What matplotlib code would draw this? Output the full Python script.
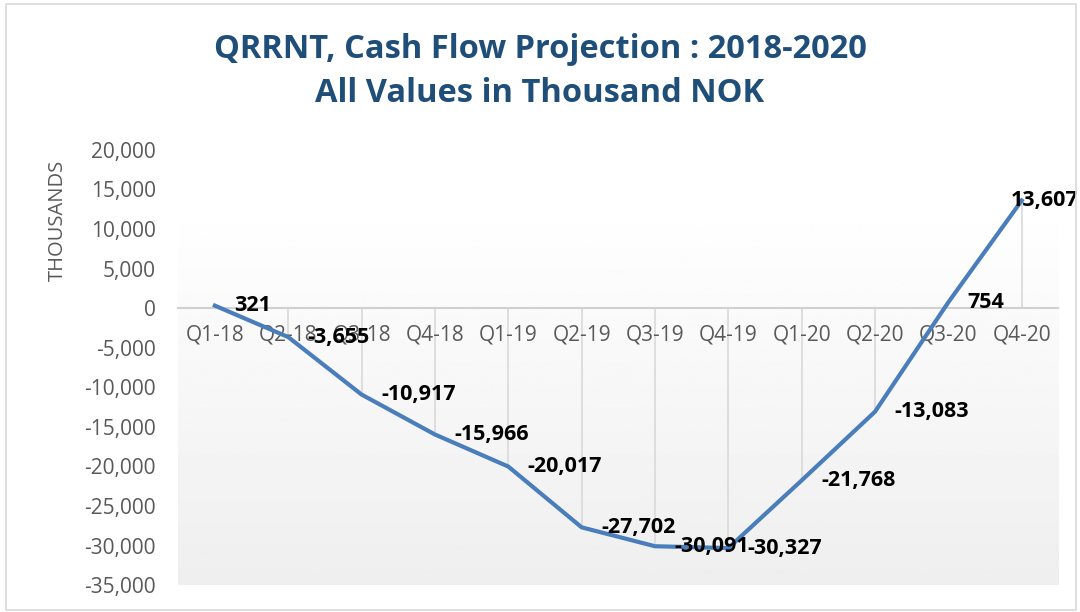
import matplotlib
matplotlib.use("Agg")
import matplotlib.pyplot as plt
import numpy as np
from matplotlib.patches import Rectangle

quarters = ["Q1-18", "Q2-18", "Q3-18", "Q4-18", "Q1-19", "Q2-19",
            "Q3-19", "Q4-19", "Q1-20", "Q2-20", "Q3-20", "Q4-20"]
cash_flow = [321, -3655, -10917, -15966, -20017, -27702,
             -30091, -30327, -21768, -13083, 754, 13607]
y_ticks = list(range(-35000, 20001, 5000))

plt.rcParams["font.family"] = ["Open Sans", "DejaVu Sans"]

GRAY_TXT = "#595959"
LINE_COL = "#4a7ebb"
TITLE_COL = "#1f4e79"

fig = plt.figure(figsize=(10.8, 6.12), dpi=100)
ax = fig.add_axes([0.165, 0.044, 0.815, 0.711])

x = np.arange(len(quarters))
ax.set_xlim(-0.5, len(quarters) - 0.5)
ax.set_ylim(-35000, 20000)

# plot area gradient, white at top to light gray at bottom
grad = np.concatenate([np.ones(30), np.linspace(1.0, 0.935, 226)]).reshape(-1, 1)
ax.imshow(grad, cmap="gray", vmin=0, vmax=1, aspect="auto",
          extent=[-0.5, len(quarters) - 0.5, -35000, 20000], zorder=0)

# drop lines from each point to the zero axis
ax.vlines(x, 0, cash_flow, color="#d9d9d9", lw=1.2, zorder=1)

ax.plot(x, cash_flow, color=LINE_COL, lw=3, zorder=3, solid_joinstyle="miter")

for i, v in enumerate(cash_flow):
    if i < len(cash_flow) - 1:
        ax.annotate(f"{v:,}", (x[i], v), xytext=(14, 0), textcoords="offset points",
                    ha="left", va="center", fontsize=15.5, fontweight="bold",
                    color="black", zorder=4, annotation_clip=False)
    else:
        ax.annotate(f"{v:,}", (x[i], v), xytext=(41, 0), textcoords="offset points",
                    ha="right", va="center", fontsize=15.5, fontweight="bold",
                    color="black", zorder=4, annotation_clip=False)

for s in ["top", "right", "left"]:
    ax.spines[s].set_visible(False)
ax.spines["bottom"].set_position(("data", 0))
ax.spines["bottom"].set_color("#d0d0d0")
ax.spines["bottom"].set_linewidth(1.5)

ax.set_xticks(x)
ax.set_xticklabels(quarters)
ax.set_yticks(y_ticks)
ax.set_yticklabels([f"{t:,}" for t in y_ticks])
ax.tick_params(axis="x", length=0, pad=12, labelsize=15, labelcolor=GRAY_TXT)
ax.tick_params(axis="y", length=0, pad=16, labelsize=15, labelcolor=GRAY_TXT)

fig.text(0.054, 0.64, "THOUSANDS", rotation=90, ha="center", va="center",
         fontsize=14.5, color=GRAY_TXT)

fig.text(0.5, 0.883, "QRRNT, Cash Flow Projection : 2018-2020\nAll Values in Thousand NOK",
         ha="center", va="center", fontsize=23.5, fontweight="bold",
         color=TITLE_COL, linespacing=1.45)

fig.patches.append(Rectangle((0.006, 0.004), 0.99, 0.99, transform=fig.transFigure,
                             fill=False, edgecolor="#d9d9d9", lw=1.2))

fig.savefig("out.png", dpi=100, facecolor="white")
